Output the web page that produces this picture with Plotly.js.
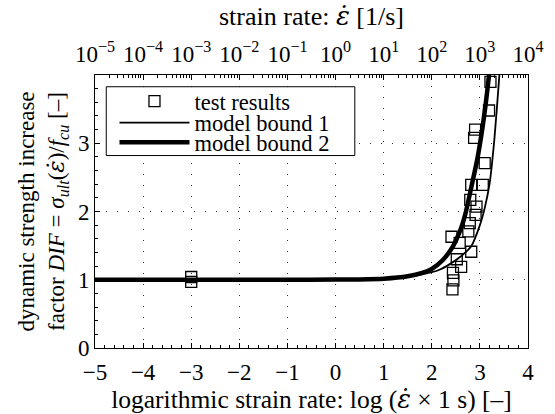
<!DOCTYPE html>
<html><head><meta charset="utf-8">
<script src="https://cdn.plot.ly/plotly-3.0.1.min.js"></script>
<style>html,body{margin:0;padding:0;background:#fff}</style>
</head><body><div id="chart" style="width:555px;height:414px"></div>
<script>
// test results: log10 strain rate vs DIF
const testLogRate = [-3.0, -3.0, 3.22, 3.19, 2.90, 2.88, 3.10, 2.82, 3.06, 2.80, 2.93, 2.91, 2.79, 2.41, 2.76, 2.58, 2.82, 2.52, 2.61, 2.44, 2.45, 2.43];
const testDIF     = [1.04, 0.97, 3.90, 3.48, 3.20, 3.08, 2.71, 2.39, 2.39, 2.17, 2.07, 1.95, 1.83, 1.63, 1.71, 1.54, 1.41, 1.30, 1.19, 1.10, 0.99, 0.86];
// model bound 1 (thin)
const bound1LogRate = [-5, -3, -1, 0, 0.5, 1, 1.5, 1.8, 2.0, 2.16, 2.4, 2.6, 2.82, 3.0, 3.1, 3.2, 3.3, 3.4, 3.45];
const bound1DIF     = [1, 1, 1, 1.003, 1.006, 1.02, 1.05, 1.08, 1.11, 1.146, 1.24, 1.34, 1.49, 1.8, 2.05, 2.4, 3.05, 3.95, 4.45];
// model bound 2 (thick)
const bound2LogRate = [-5, -3, -1, 0, 0.5, 1, 1.5, 1.8, 2.0, 2.23, 2.44, 2.6, 2.7, 2.82, 2.95, 3.05, 3.12, 3.19, 3.25];
const bound2DIF     = [1, 1, 1, 1.002, 1.005, 1.015, 1.05, 1.1, 1.16, 1.29, 1.49, 1.74, 1.97, 2.35, 2.78, 3.21, 3.57, 4.0, 4.45];
// top axis decades (strain rate in 1/s) and their labels
const topTickRates = [1e-5, 1e-4, 1e-3, 1e-2, 1e-1, 1e0, 1e1, 1e2, 1e3, 1e4];
const topTickLabels = ['10<sup>−5</sup>', '10<sup>−4</sup>', '10<sup>−3</sup>', '10<sup>−2</sup>', '10<sup>−1</sup>',
                       '10<sup>0</sup>', '10<sup>1</sup>', '10<sup>2</sup>', '10<sup>3</sup>', '10<sup>4</sup>'];
const topMinorMultipliers = [2, 3, 4, 5, 6, 7, 8, 9];
const yTickVals = [0, 1, 2, 3];
const yTickText = ['0', '1', '2', '3'];
const xTickVals = [-5, -4, -3, -2, -1, 0, 1, 2, 3, 4];
const xTickText = ['−5', '−4', '−3', '−2', '−1', '0', '1', '2', '3', '4'];

const topMinorTicks = [];
topTickRates.slice(0, -1).forEach(d => topMinorMultipliers.forEach(m => topMinorTicks.push(d * m)));

const FONT = 'Liberation Serif';
const mkFont = (s) => ({family: FONT, size: s, color: '#000'});
const EPSDOT = '<span style="font-family:\'DejaVu Serif\'"><i>ε̇</i></span>';

const traces = [
  {x: testLogRate, y: testDIF, type: 'scatter', mode: 'markers', name: 'test results', legend: 'legend',
   marker: {symbol: 'square-open', size: 11, color: '#000', line: {width: 1.3, color: '#000'}}},
  {x: bound1LogRate, y: bound1DIF, type: 'scatter', mode: 'lines', name: 'model bound 1', legend: 'legend2',
   line: {color: '#000', width: 1.8, shape: 'spline', smoothing: 0.6}},
  {x: bound2LogRate, y: bound2DIF, type: 'scatter', mode: 'lines', name: 'model bound 2', legend: 'legend3',
   line: {color: '#000', width: 4.5, shape: 'spline', smoothing: 0.6}},
  {x: topTickRates, y: topTickRates.map(() => null), xaxis: 'x2', yaxis: 'y', type: 'scatter', mode: 'lines',
   showlegend: false, hoverinfo: 'skip'},
  {x: topTickRates, y: topTickRates.map(() => null), xaxis: 'x3', yaxis: 'y', type: 'scatter', mode: 'lines',
   showlegend: false, hoverinfo: 'skip'}
];
const legendBase = (y) => ({x: 0.045, y: y, xanchor: 'left', yanchor: 'middle', bgcolor: 'rgba(0,0,0,0)',
  borderwidth: 0, font: mkFont(22.5), itemwidth: 70, tracegroupgap: 0});
const layout = {
  width: 555, height: 414,
  margin: {l: 95, r: 27, t: 75, b: 66, pad: 0},
  paper_bgcolor: '#fff', plot_bgcolor: '#fff',
  font: mkFont(23),
  title: {text: 'strain rate: ' + EPSDOT + ' [1/s]', font: mkFont(26),
          x: 0.5, xref: 'paper', y: 0.961, yref: 'container', yanchor: 'middle'},
  xaxis: {
    range: [-5, 4], tickvals: xTickVals, ticktext: xTickText, mirror: false,
    showline: true, linecolor: '#000', linewidth: 1, ticks: 'inside', ticklen: 5, tickcolor: '#000',
    tickfont: mkFont(23), zeroline: false, ticklabelstandoff: 3,
    showgrid: true, gridcolor: '#333', griddash: '1px,10px', gridwidth: 1,
    minor: {ticks: 'inside', ticklen: 3, dtick: 0.2, tickcolor: '#000', showgrid: false},
    title: {text: 'logarithmic strain rate: log (' + EPSDOT + ' × 1 s) [–]', font: mkFont(25.5), standoff: 1}
  },
  xaxis2: {
    type: 'log', range: [-5, 4], overlaying: 'x', side: 'top', anchor: 'y',
    showline: true, linecolor: '#000', linewidth: 1, ticks: 'inside', ticklen: 5, tickcolor: '#000',
    tickfont: mkFont(23), zeroline: false, ticklabelstandoff: 3,
    tickvals: topTickRates, ticktext: topTickLabels, showgrid: false
  },
  xaxis3: {
    type: 'log', range: [-5, 4], overlaying: 'x', side: 'top', anchor: 'y',
    tickvals: topMinorTicks, showticklabels: false, ticks: 'inside', ticklen: 3, tickcolor: '#000',
    showgrid: false, showline: false, zeroline: false
  },
  yaxis: {
    range: [0, 4], tickvals: yTickVals, ticktext: yTickText, mirror: true,
    showline: true, linecolor: '#000', linewidth: 1, ticks: 'inside', ticklen: 5, tickcolor: '#000',
    tickfont: mkFont(23), zeroline: false,
    showgrid: true, gridcolor: '#333', griddash: '1px,10px', gridwidth: 1,
    minor: {ticks: 'inside', ticklen: 3, dtick: 0.2, tickcolor: '#000', showgrid: false},
    title: {text: 'dynamic strength increase<br>factor <i>DIF</i> = <i>σ<sub>ult</sub></i>(' + EPSDOT + ')/<i>f<sub>cu</sub></i> [–]',
            font: mkFont(23), standoff: 6}
  },
  legend: legendBase(0.903),
  legend2: legendBase(0.8245),
  legend3: legendBase(0.752),
  shapes: [{type: 'rect', xref: 'paper', yref: 'paper', x0: 0.026, x1: 0.6, y0: 0.705, y1: 0.957,
            line: {color: '#000', width: 1}, fillcolor: '#fff', layer: 'above'}],
  showlegend: true
};
Plotly.newPlot('chart', traces, layout, {staticPlot: true, displayModeBar: false});
</script>
</body></html>
